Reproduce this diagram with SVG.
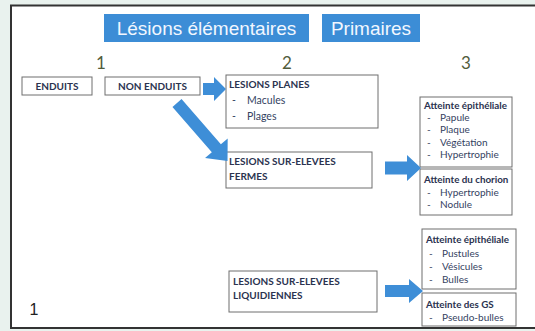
<svg xmlns="http://www.w3.org/2000/svg" width="535" height="331" viewBox="0 0 535 331">
<style>
.box{fill:#ffffff;stroke:#6e6e6e;stroke-width:1}
.hdr{fill:#3c8dd6}
.ttl{font-family:"Liberation Sans",Arial,sans-serif;font-size:19px;fill:#f2f7ff}
.num{font-family:Lato,"Open Sans",sans-serif;font-size:17px;fill:#515c3c}
.bt{font-family:Lato,"Open Sans",sans-serif;font-size:10px;font-weight:bold;fill:#2b3350}
.rt{font-family:Lato,"Open Sans",sans-serif;font-size:9.8px;font-weight:bold;fill:#2b3350}
.it{font-family:Lato,"Open Sans",sans-serif;font-size:10.5px;fill:#34425f}
.ir{font-family:Lato,"Open Sans",sans-serif;font-size:10px;fill:#34425f}
.arrow{fill:#3e8ed7}
</style>
<rect x="0" y="0" width="535" height="331" fill="#e9f2ee"/>
<rect x="11" y="5.5" width="530" height="322.5" fill="#ffffff" stroke="#333333" stroke-width="2"/>

<g id="header">
<rect class="hdr" x="104" y="14" width="205" height="28"/>
<text class="ttl" x="206.5" y="35" text-anchor="middle">Lésions élémentaires</text>
<rect class="hdr" x="322" y="14" width="98" height="28"/>
<text class="ttl" x="371" y="35" text-anchor="middle">Primaires</text>
</g>

<g id="numbers">
<text class="num" x="101" y="69" text-anchor="middle">1</text>
<text class="num" x="287" y="69" text-anchor="middle">2</text>
<text class="num" x="466" y="69" text-anchor="middle">3</text>
</g>

<g id="enduits">
<rect class="box" x="22" y="77" width="70" height="18"/>
<text class="bt" x="57" y="89.5" text-anchor="middle">ENDUITS</text>
</g>

<g id="non-enduits">
<rect class="box" x="105" y="77" width="95" height="18"/>
<text class="bt" x="152.5" y="89.5" text-anchor="middle">NON ENDUITS</text>
</g>

<g id="lesions-planes">
<rect class="box" x="226" y="75" width="152" height="53"/>
<text class="bt" x="229" y="88">LESIONS PLANES</text>
<text class="it" x="232" y="104" fill="#888">-</text>
<text class="it" x="247" y="104">Macules</text>
<text class="it" x="232" y="120" fill="#888">-</text>
<text class="it" x="247" y="120">Plages</text>
</g>

<g id="lesions-fermes">
<rect class="box" x="226" y="152" width="146" height="36"/>
<text class="bt" x="229" y="165">LESIONS SUR-ELEVEES</text>
<text class="bt" x="229" y="180">FERMES</text>
</g>

<g id="lesions-liquidiennes">
<rect class="box" x="229" y="271" width="148" height="41"/>
<text class="bt" x="233" y="285">LESIONS SUR-ELEVEES</text>
<text class="bt" x="233" y="299">LIQUIDIENNES</text>
</g>

<g id="fermes-epitheliale">
<rect class="box" x="420" y="97" width="92" height="70"/>
<text class="rt" x="424" y="108.5">Atteinte épithéliale</text>
<text class="ir" x="427" y="120.5" fill="#e08a5a">-</text>
<text class="ir" x="440" y="120.5">Papule</text>
<text class="ir" x="427" y="133" fill="#555">-</text>
<text class="ir" x="440" y="133">Plaque</text>
<text class="ir" x="427" y="145.5" fill="#e0905a">-</text>
<text class="ir" x="440" y="145.5">Végétation</text>
<text class="ir" x="427" y="158" fill="#e04848">-</text>
<text class="ir" x="440" y="158">Hypertrophie</text>
</g>

<g id="fermes-chorion">
<rect class="box" x="420" y="169" width="92" height="46"/>
<text class="rt" x="424" y="182.5">Atteinte du chorion</text>
<text class="ir" x="427" y="195.5" fill="#444">-</text>
<text class="ir" x="440" y="195.5">Hypertrophie</text>
<text class="ir" x="427" y="207.5" fill="#555">-</text>
<text class="ir" x="440" y="207.5">Nodule</text>
</g>

<g id="liquid-epitheliale">
<rect class="box" x="422" y="229" width="94" height="60"/>
<text class="rt" x="426" y="242.5">Atteinte épithéliale</text>
<text class="ir" x="429" y="256.5" fill="#e05050">-</text>
<text class="ir" x="442" y="256.5">Pustules</text>
<text class="ir" x="429" y="269.5" fill="#888">-</text>
<text class="ir" x="442" y="269.5">Vésicules</text>
<text class="ir" x="429" y="282.5" fill="#f0a040">-</text>
<text class="ir" x="442" y="282.5">Bulles</text>
</g>

<g id="liquid-gs">
<rect class="box" x="422" y="293" width="94" height="33"/>
<text class="rt" x="426" y="307.5">Atteinte des GS</text>
<text class="ir" x="429" y="320.5" fill="#5070a0">-</text>
<text class="ir" x="442" y="320.5">Pseudo-bulles</text>
</g>

<g id="connectors">
<polygon class="arrow" points="203,83 214,83 214,77 226,89 214,101 214,95 203,95"/>
<polygon class="arrow" points="0,-6 60,-6 60,-15 77,0 60,15 60,6 0,6" transform="translate(177,103) rotate(49)"/>
<polygon class="arrow" points="385,161.5 407,161.5 407,155 421,168 407,181 407,174.5 385,174.5"/>
<polygon class="arrow" points="385,285 409,285 409,279 423,291 409,303 409,297 385,297"/>
</g>

<text x="34" y="315" text-anchor="middle" font-family="Liberation Sans, Arial, sans-serif" font-size="16" fill="#222">1</text>
</svg>
